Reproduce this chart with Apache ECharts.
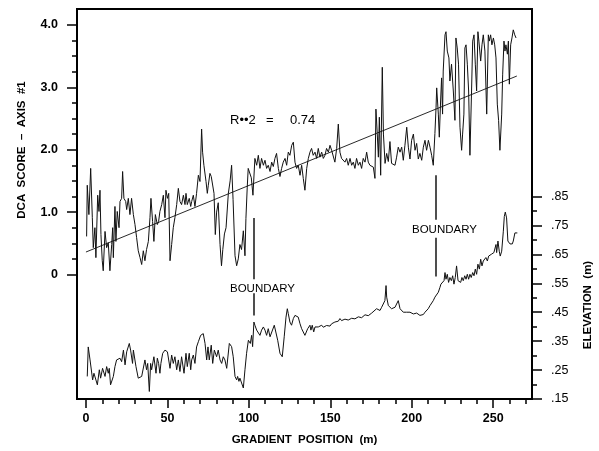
<!DOCTYPE html>
<html><head><meta charset="utf-8">
<script src="https://cdn.jsdelivr.net/npm/echarts@6/dist/echarts.min.js"></script>
<style>html,body{margin:0;padding:0;background:#fff}#c{width:599px;height:451px}</style>
</head><body><div id="c"></div>
<script>
// ---- data ----
const dcaPos = [0.4,0.8,1.8,2.9,3.9,4.5,5.5,6.1,7.2,8.0,8.6,9.2,10.0,10.6,11.7,12.7,13.7,14.7,15.8,16.4,16.8,17.8,18.4,19.2,20.3,20.9,21.9,22.5,23.3,24.4,25.0,26.0,27.0,28.0,29.1,30.1,31.1,32.1,33.2,34.2,35.2,36.2,37.2,38.3,39.3,39.9,40.9,41.7,42.6,43.8,44.6,45.4,46.5,47.5,48.5,49.1,50.0,50.8,51.6,52.6,53.6,54.6,55.7,56.7,57.7,58.7,59.8,60.8,61.4,62.2,63.4,64.3,64.9,65.9,66.9,67.9,69.0,70.0,71.0,71.6,72.4,73.7,74.5,75.1,76.1,76.9,77.8,78.6,79.4,80.2,81.2,82.3,83.2,84.0,85.0,86.0,87.4,88.5,89.4,90.3,91.5,92.5,93.5,94.5,95.5,96.6,97.6,98.2,99.0,99.6,100.5,101.5,102.5,103.7,104.8,105.8,106.8,107.8,108.9,109.9,110.9,111.9,113.0,114.0,115.0,116.0,117.0,118.1,119.1,120.1,121.1,122.2,123.2,124.2,125.2,126.3,127.3,128.3,129.3,130.3,131.4,132.4,133.4,134.4,135.5,136.5,137.5,138.5,139.5,140.6,141.6,142.6,143.6,144.7,145.7,146.7,147.7,148.8,149.8,150.8,151.8,152.8,153.9,154.9,155.9,156.9,158.0,159.0,160.0,161.0,162.1,163.1,164.1,165.1,166.1,167.2,168.2,169.2,170.2,171.3,172.3,173.3,174.3,175.4,176.4,177.4,178.0,178.8,179.5,180.1,180.9,181.9,182.6,183.6,184.6,185.6,186.6,187.6,188.7,189.7,190.7,191.7,192.8,193.8,194.8,195.8,196.9,197.9,198.9,199.9,201.0,202.0,203.0,204.0,205.0,206.1,207.1,208.1,209.1,210.2,211.2,212.2,213.2,214.2,214.9,215.3,216.3,216.9,217.7,218.3,218.9,219.3,220.4,221.0,221.8,222.8,223.4,224.4,225.5,226.5,227.1,227.9,228.7,229.6,230.6,231.2,232.0,232.6,233.3,234.1,234.9,235.7,236.7,237.4,238.2,239.0,239.8,240.6,241.2,242.3,243.1,243.9,244.9,246.0,247.0,247.6,248.4,249.2,250.1,250.9,251.7,252.5,253.3,254.1,255.2,255.8,256.6,257.2,257.8,258.7,259.3,259.9,260.7,261.5,262.3,263.2,264.0];
const dcaScore = [0.61,1.43,0.96,1.70,0.91,0.43,0.75,0.27,1.27,1.01,1.35,0.64,0.22,0.06,0.69,0.43,0.51,0.06,0.48,0.75,0.27,1.09,0.53,1.01,0.75,1.17,1.22,1.65,1.22,1.17,1.04,1.22,0.96,1.22,0.96,0.80,0.59,0.38,0.27,0.16,0.38,0.22,0.40,0.53,0.91,1.22,0.85,0.53,0.96,0.80,0.85,1.01,1.12,1.27,0.91,1.35,1.22,1.30,0.22,0.48,0.75,0.91,1.12,1.38,1.17,1.12,1.27,1.12,1.30,1.12,1.22,1.09,1.17,1.27,1.09,1.30,1.59,1.49,2.33,1.96,1.75,1.49,1.30,1.43,1.62,1.57,1.60,1.30,0.64,1.00,1.15,0.48,0.14,0.40,0.65,0.75,1.30,1.50,1.75,1.20,0.30,0.14,0.25,0.48,0.40,0.70,0.30,0.90,1.40,1.70,1.72,1.55,1.27,1.86,1.75,1.91,1.70,1.86,1.75,1.83,1.70,1.75,1.65,1.80,1.73,1.86,1.94,1.70,1.57,1.70,1.80,1.86,1.75,1.96,1.91,2.07,2.12,1.80,1.70,1.75,1.59,1.75,1.54,1.35,1.70,1.86,1.96,2.02,1.91,1.96,1.86,2.02,1.88,1.96,1.86,1.91,2.02,1.96,2.07,1.99,2.02,1.80,2.02,2.41,1.96,1.86,1.88,1.80,1.86,1.75,1.86,1.75,1.80,1.70,1.86,1.75,1.80,1.70,1.86,1.80,1.96,1.80,1.75,1.73,1.72,1.54,2.65,2.26,1.88,2.52,1.59,3.32,2.25,1.78,1.94,1.81,2.13,1.78,1.78,1.75,1.88,2.04,1.96,2.04,1.83,2.07,2.36,2.04,1.85,2.15,2.25,1.99,2.10,1.85,1.94,1.83,2.04,2.15,1.99,2.15,2.04,1.91,1.75,2.26,2.68,2.99,2.57,2.20,2.78,3.15,2.57,3.26,3.84,3.89,3.58,3.47,3.10,3.37,2.94,2.47,3.79,3.63,3.37,2.36,1.99,2.25,2.57,3.63,3.68,3.37,2.94,1.91,2.94,3.74,3.84,3.37,2.94,3.89,3.74,3.42,3.68,3.84,3.58,2.57,3.84,3.74,3.84,3.68,3.79,3.68,3.47,2.73,2.47,1.99,2.57,3.21,3.74,3.58,3.68,3.53,3.74,3.05,3.68,3.79,3.92,3.84,3.79];

const elevPos = [0.8,1.4,2.5,4.1,4.9,7.0,8.2,9.0,10.2,11.7,12.7,13.7,14.3,15.1,15.8,16.8,17.8,18.8,19.9,20.9,21.9,23.0,24.0,25.0,26.6,27.4,28.6,29.1,30.7,32.1,33.2,34.2,35.2,36.2,37.2,37.9,38.9,39.7,40.3,41.7,43.0,43.8,44.6,45.4,46.0,47.1,48.5,50.0,50.5,51.6,52.6,53.6,54.6,55.7,56.7,57.7,58.7,60.2,61.4,62.2,63.4,64.3,64.9,65.9,66.9,67.9,69.0,70.4,72.0,73.1,74.1,74.9,75.7,76.9,77.8,78.8,80.2,81.2,82.3,83.3,84.3,85.3,86.4,88.0,88.4,89.4,90.4,91.5,92.5,93.1,93.9,94.5,95.6,96.6,97.6,98.6,99.7,100.3,100.9,101.7,102.3,103.1,103.7,104.8,105.8,106.8,107.8,108.9,109.9,110.9,111.9,113.0,114.0,115.6,116.6,117.7,119.1,120.5,121.7,122.8,123.6,124.2,125.2,126.2,127.3,128.3,129.3,130.3,131.4,132.4,133.4,134.4,135.5,136.1,136.9,137.5,138.1,138.9,139.8,140.6,141.6,142.6,143.6,144.7,145.7,146.7,147.7,148.8,149.8,150.8,151.8,152.8,153.9,154.9,155.9,156.9,158.0,159.0,160.0,161.0,162.1,163.1,164.1,165.1,166.1,167.2,168.2,169.2,170.2,171.3,172.3,173.3,174.3,175.4,176.4,178.4,180.5,181.5,182.5,183.5,184.2,184.6,185.6,186.6,187.6,188.7,189.7,190.7,191.7,192.8,194.8,196.8,197.9,198.9,201.0,203.0,204.0,205.0,206.1,207.1,208.1,209.1,210.1,211.2,212.2,213.2,214.2,215.3,216.3,217.3,217.9,218.9,219.8,220.4,221.0,221.8,222.6,223.4,224.3,225.1,225.9,226.7,227.5,228.4,229.2,230.0,230.8,231.6,232.5,233.3,234.1,234.9,235.7,236.5,237.4,238.2,239.0,239.8,240.6,241.5,242.3,243.1,243.9,244.7,245.5,246.4,247.2,248.0,248.8,249.6,250.4,251.1,251.7,252.1,252.9,253.7,254.3,255.2,256.2,256.8,257.4,258.2,259.0,260.3,261.1,261.7,262.3,263.3,264.8];
const elevValue = [0.228,0.330,0.285,0.216,0.239,0.199,0.251,0.222,0.256,0.228,0.262,0.239,0.256,0.199,0.194,0.228,0.262,0.285,0.279,0.291,0.279,0.319,0.268,0.313,0.342,0.319,0.273,0.319,0.262,0.222,0.216,0.228,0.228,0.285,0.251,0.273,0.176,0.273,0.251,0.296,0.239,0.291,0.273,0.239,0.273,0.308,0.319,0.313,0.319,0.256,0.302,0.273,0.296,0.251,0.285,0.245,0.296,0.239,0.308,0.262,0.308,0.251,0.285,0.302,0.273,0.330,0.348,0.370,0.376,0.342,0.285,0.330,0.285,0.336,0.273,0.319,0.296,0.319,0.285,0.273,0.296,0.285,0.256,0.342,0.342,0.331,0.296,0.228,0.216,0.228,0.211,0.222,0.216,0.188,0.251,0.308,0.353,0.359,0.342,0.370,0.331,0.416,0.405,0.388,0.393,0.370,0.388,0.399,0.388,0.370,0.393,0.365,0.359,0.405,0.410,0.353,0.308,0.296,0.365,0.433,0.462,0.445,0.416,0.405,0.428,0.439,0.445,0.433,0.410,0.393,0.399,0.370,0.376,0.393,0.399,0.405,0.388,0.405,0.382,0.399,0.405,0.399,0.402,0.405,0.398,0.401,0.404,0.405,0.402,0.410,0.407,0.416,0.422,0.419,0.428,0.421,0.422,0.426,0.428,0.423,0.422,0.429,0.433,0.427,0.428,0.434,0.439,0.431,0.433,0.441,0.445,0.438,0.439,0.447,0.450,0.462,0.456,0.467,0.462,0.490,0.542,0.502,0.473,0.467,0.462,0.456,0.467,0.462,0.490,0.462,0.450,0.450,0.447,0.450,0.444,0.447,0.442,0.439,0.444,0.442,0.450,0.456,0.462,0.473,0.479,0.490,0.502,0.507,0.519,0.536,0.547,0.542,0.559,0.587,0.564,0.581,0.553,0.570,0.559,0.576,0.547,0.570,0.610,0.559,0.564,0.553,0.570,0.559,0.576,0.564,0.581,0.564,0.581,0.570,0.587,0.576,0.599,0.581,0.616,0.599,0.633,0.610,0.627,0.621,0.639,0.627,0.644,0.639,0.650,0.644,0.656,0.650,0.684,0.656,0.696,0.661,0.644,0.661,0.730,0.781,0.796,0.776,0.696,0.686,0.684,0.686,0.696,0.724,0.724,0.724];

const regPos = [0, 264.5];
const regScore = [0.36, 3.18];

const boundaryPos = [103.3, 214.7];
const boundaryUpper = [[0.905, -0.075], [1.592, 0.878]];
const boundaryLower = [[-0.30, -0.656], [0.587, -0.032]];

const xMajorTicks = [0, 50, 100, 150, 200, 250];
const xMinorTicks = [0,10,20,30,40,50,60,70,80,90,100,110,120,130,140,150,160,170,180,190,200,210,220,230,240,250,260,270];
const dcaMajorTicks = [0, 1, 2, 3, 4];
const dcaMinorTicks = [0,0.25,0.5,0.75,1,1.25,1.5,1.75,2,2.25,2.5,2.75,3,3.25,3.5,3.75,4];
const elevMajorTicks = [0.15,0.25,0.35,0.45,0.55,0.65,0.75,0.85];
const elevMinorTicks = [0.15,0.2,0.25,0.3,0.35,0.4,0.45,0.5,0.55,0.6,0.65,0.7,0.75,0.8,0.85];

// ---- chart ----
const FONT = 'Liberation Sans';
const zip = (a, b) => a.map((v, i) => [v, b[i]]);
const chart = echarts.init(document.getElementById('c'), null, {renderer: 'canvas'});

const X = {min: -5.5, max: 273.8};
const DCA = {min: -1.995, max: 4.254};
const ELEV = {min: 0.15, max: 1.498};

const segs = [];
boundaryPos.forEach((p, i) => {
  segs.push([{coord: [p, boundaryUpper[i][0]]}, {coord: [p, boundaryUpper[i][1]]}]);
  segs.push([{coord: [p, boundaryLower[i][0]]}, {coord: [p, boundaryLower[i][1]]}]);
});

const hiddenLine = {show: false, onZero: false};

chart.setOption({
  animation: false,
  backgroundColor: '#fff',
  grid: {left: 77, right: 67, top: 9, bottom: 48, show: true, borderColor: '#000', borderWidth: 2, backgroundColor: 'transparent'},
  xAxis: [
    {type: 'value', min: X.min, max: X.max, position: 'bottom', axisLine: hiddenLine, splitLine: {show: false},
     axisTick: {show: true, customValues: xMajorTicks, length: 9, lineStyle: {color: '#000', width: 1.5}},
     axisLabel: {customValues: xMajorTicks, margin: 13, color: '#000', fontFamily: FONT, fontWeight: 'bold', fontSize: 12.5},
     name: 'GRADIENT  POSITION  (m)', nameLocation: 'middle', nameGap: 35,
     nameTextStyle: {color: '#000', fontFamily: FONT, fontWeight: 'bold', fontSize: 11.5}},
    {type: 'value', min: X.min, max: X.max, position: 'bottom', axisLine: hiddenLine, splitLine: {show: false},
     axisTick: {show: true, customValues: xMinorTicks, length: 5, lineStyle: {color: '#000', width: 1.5}},
     axisLabel: {show: false}}
  ],
  yAxis: [
    {type: 'value', min: DCA.min, max: DCA.max, position: 'left', axisLine: hiddenLine, splitLine: {show: false},
     axisTick: {show: true, customValues: dcaMajorTicks, length: 10, lineStyle: {color: '#000', width: 1.5}},
     axisLabel: {customValues: dcaMajorTicks, margin: 19, color: '#000', fontFamily: FONT, fontWeight: 'bold', fontSize: 12.5,
       formatter: v => v === 0 ? '0' : v.toFixed(1)}},
    {type: 'value', min: DCA.min, max: DCA.max, position: 'left', axisLine: hiddenLine, splitLine: {show: false},
     axisTick: {show: true, customValues: dcaMinorTicks, length: 5, lineStyle: {color: '#000', width: 1.5}},
     axisLabel: {show: false}},
    {type: 'value', min: ELEV.min, max: ELEV.max, position: 'right', axisLine: hiddenLine, splitLine: {show: false},
     axisTick: {show: true, customValues: elevMajorTicks, length: 10, lineStyle: {color: '#000', width: 1.5}},
     axisLabel: {customValues: elevMajorTicks, margin: 19, color: '#000', fontFamily: FONT, fontSize: 12.5,
       formatter: v => '.' + v.toFixed(2).slice(2)}},
    {type: 'value', min: ELEV.min, max: ELEV.max, position: 'right', axisLine: hiddenLine, splitLine: {show: false},
     axisTick: {show: true, customValues: elevMinorTicks, length: 5, lineStyle: {color: '#000', width: 1.5}},
     axisLabel: {show: false}}
  ],
  series: [
    {type: 'line', name: 'DCA', xAxisIndex: 0, yAxisIndex: 0, data: zip(dcaPos, dcaScore), symbol: 'none',
     lineStyle: {color: '#111', width: 1}, silent: true},
    {type: 'line', name: 'Regression', xAxisIndex: 0, yAxisIndex: 0, data: zip(regPos, regScore), symbol: 'none',
     lineStyle: {color: '#111', width: 0.9}, silent: true,
     markLine: {silent: true, symbol: ['none', 'none'], label: {show: false},
       lineStyle: {color: '#222', width: 1.6, type: 'solid'}, data: segs}},
    {type: 'line', name: 'Elevation', xAxisIndex: 0, yAxisIndex: 2, data: zip(elevPos, elevValue), symbol: 'none',
     lineStyle: {color: '#111', width: 1}, silent: true}
  ],
  graphic: [
    {type: 'text', x: 22, y: 150, rotation: Math.PI / 2,
     style: {text: 'DCA  SCORE  –  AXIS  #1', fill: '#000', font: 'bold 11.5px ' + FONT, textAlign: 'center', textVerticalAlign: 'middle'}},
    {type: 'text', x: 588, y: 305, rotation: Math.PI / 2,
     style: {text: 'ELEVATION  (m)', fill: '#000', font: 'bold 11.5px ' + FONT, textAlign: 'center', textVerticalAlign: 'middle'}},
    {type: 'text', x: 230, y: 120, style: {text: 'R••2', fill: '#000', font: '13px ' + FONT, textAlign: 'left', textVerticalAlign: 'middle'}},
    {type: 'text', x: 266, y: 120, style: {text: '=', fill: '#000', font: '13px ' + FONT, textAlign: 'left', textVerticalAlign: 'middle'}},
    {type: 'text', x: 290, y: 120, style: {text: '0.74', fill: '#000', font: '13px ' + FONT, textAlign: 'left', textVerticalAlign: 'middle'}},
    {type: 'text', x: 230, y: 289, style: {text: 'BOUNDARY', fill: '#000', font: '11.5px ' + FONT, textAlign: 'left', textVerticalAlign: 'middle'}},
    {type: 'text', x: 412, y: 230, style: {text: 'BOUNDARY', fill: '#000', font: '11.5px ' + FONT, textAlign: 'left', textVerticalAlign: 'middle'}}
  ]
});
</script></body></html>
